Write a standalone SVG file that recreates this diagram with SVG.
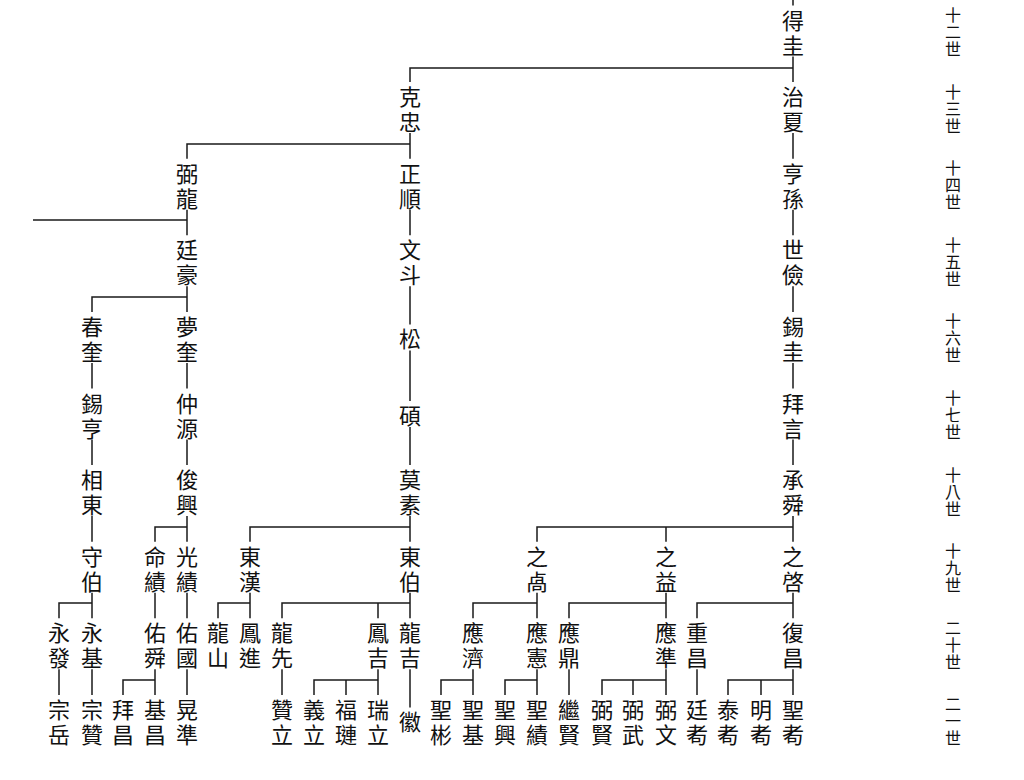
<svg xmlns="http://www.w3.org/2000/svg" width="1024" height="780" viewBox="0 0 1024 780">
<style>
.nm{font-family:"Noto Sans CJK TC","Noto Sans CJK JP",sans-serif;font-size:22px;fill:#111;text-anchor:middle;dominant-baseline:central}
.gl{font-family:"Noto Sans CJK TC","Noto Sans CJK JP",sans-serif;font-size:16px;fill:#111;text-anchor:middle;dominant-baseline:central}
.ln{fill:none;stroke:#1a1a1a;stroke-width:1.5}
</style>
<rect width="1024" height="780" fill="#ffffff"/>
<g id="connectors" class="ln">
<path d="M793 0V5.5 M793 56.5V82.1 M410 82.1V68H793"/>
<path d="M410 133.1V158.7 M187 158.7V144H410"/>
<path d="M793 133.1V158.7 M793 209.7V235.3 M793 286.3V311.9 M793 362.9V388.5 M793 439.5V465.1"/>
<path d="M793 516.1V541.7 M537 541.7V527H793 M666 527V541.7"/>
<path d="M793 592.7V618.3 M697 618.3V603H793"/>
<path d="M666 592.7V618.3 M569 618.3V603H666"/>
<path d="M537 592.7V618.3 M473 618.3V603H537"/>
<path d="M793 669.3V694.9 M728 694.9V680H793 M761 680V694.9"/>
<path d="M697 669.3V694.9"/>
<path d="M666 669.3V694.9 M602 694.9V680H666 M633 680V694.9"/>
<path d="M569 669.3V694.9"/>
<path d="M537 669.3V694.9 M505 694.9V680H537"/>
<path d="M473 669.3V694.9 M441 694.9V680H473"/>
<path d="M410 209.7V235.3 M410 286.3V324.4 M410 350.4V401 M410 427V465.1"/>
<path d="M410 516.1V541.7 M250 541.7V527H410"/>
<path d="M410 592.7V618.3 M282 618.3V603H410 M378 603V618.3"/>
<path d="M410 669.3V707.4"/>
<path d="M378 669.3V694.9 M314 694.9V680H378 M346 680V694.9"/>
<path d="M282 669.3V694.9"/>
<path d="M250 592.7V618.3 M218 618.3V603H250"/>
<path d="M187 209.7V235.3 M33 220H187"/>
<path d="M187 286.3V311.9 M92 311.9V297H187"/>
<path d="M187 362.9V388.5 M187 439.5V465.1"/>
<path d="M187 516.1V541.7 M155 541.7V527H187"/>
<path d="M187 592.7V618.3 M187 669.3V694.9"/>
<path d="M155 592.7V618.3"/>
<path d="M155 669.3V694.9 M123 694.9V680H155"/>
<path d="M92 362.9V388.5 M92 439.5V465.1 M92 516.1V541.7"/>
<path d="M92 592.7V618.3 M59 618.3V603H92"/>
<path d="M92 669.3V694.9 M59 669.3V694.9"/>
</g>
<g id="n-degui"><text class="nm"><tspan x="793" y="18.5">得</tspan><tspan x="793" y="43.5">圭</tspan></text></g>
<g id="n-zhixia"><text class="nm"><tspan x="793" y="95.1">治</tspan><tspan x="793" y="120.1">夏</tspan></text></g>
<g id="n-hengsun"><text class="nm"><tspan x="793" y="171.7">亨</tspan><tspan x="793" y="196.7">孫</tspan></text></g>
<g id="n-shijian"><text class="nm"><tspan x="793" y="248.3">世</tspan><tspan x="793" y="273.3">儉</tspan></text></g>
<g id="n-xigui"><text class="nm"><tspan x="793" y="324.9">錫</tspan><tspan x="793" y="349.9">圭</tspan></text></g>
<g id="n-baiyan"><text class="nm"><tspan x="793" y="401.5">拜</tspan><tspan x="793" y="426.5">言</tspan></text></g>
<g id="n-chengshun"><text class="nm"><tspan x="793" y="478.1">承</tspan><tspan x="793" y="503.1">舜</tspan></text></g>
<g id="n-zhiqi"><text class="nm"><tspan x="793" y="554.7">之</tspan><tspan x="793" y="579.7">啓</tspan></text></g>
<g id="n-fuchang"><text class="nm"><tspan x="793" y="631.3">復</tspan><tspan x="793" y="656.3">昌</tspan></text></g>
<g id="n-shenggou"><text class="nm"><tspan x="793" y="707.9">聖</tspan><tspan x="793" y="732.9">耇</tspan></text></g>
<g id="n-minggou"><text class="nm"><tspan x="761" y="707.9">明</tspan><tspan x="761" y="732.9">耇</tspan></text></g>
<g id="n-taigou"><text class="nm"><tspan x="728" y="707.9">泰</tspan><tspan x="728" y="732.9">耇</tspan></text></g>
<g id="n-chongchang"><text class="nm"><tspan x="697" y="631.3">重</tspan><tspan x="697" y="656.3">昌</tspan></text></g>
<g id="n-tinggou"><text class="nm"><tspan x="697" y="707.9">廷</tspan><tspan x="697" y="732.9">耇</tspan></text></g>
<g id="n-zhiyi"><text class="nm"><tspan x="666" y="554.7">之</tspan><tspan x="666" y="579.7">益</tspan></text></g>
<g id="n-yingzhun"><text class="nm"><tspan x="666" y="631.3">應</tspan><tspan x="666" y="656.3">準</tspan></text></g>
<g id="n-biwen"><text class="nm"><tspan x="666" y="707.9">弼</tspan><tspan x="666" y="732.9">文</tspan></text></g>
<g id="n-biwu"><text class="nm"><tspan x="633" y="707.9">弼</tspan><tspan x="633" y="732.9">武</tspan></text></g>
<g id="n-bixian"><text class="nm"><tspan x="602" y="707.9">弼</tspan><tspan x="602" y="732.9">賢</tspan></text></g>
<g id="n-yingding"><text class="nm"><tspan x="569" y="631.3">應</tspan><tspan x="569" y="656.3">鼎</tspan></text></g>
<g id="n-jixian"><text class="nm"><tspan x="569" y="707.9">繼</tspan><tspan x="569" y="732.9">賢</tspan></text></g>
<g id="n-zhixie"><text class="nm"><tspan x="537" y="554.7">之</tspan><tspan x="537" y="579.7">卨</tspan></text></g>
<g id="n-yingxian"><text class="nm"><tspan x="537" y="631.3">應</tspan><tspan x="537" y="656.3">憲</tspan></text></g>
<g id="n-shengji"><text class="nm"><tspan x="537" y="707.9">聖</tspan><tspan x="537" y="732.9">績</tspan></text></g>
<g id="n-shengxing"><text class="nm"><tspan x="505" y="707.9">聖</tspan><tspan x="505" y="732.9">興</tspan></text></g>
<g id="n-yingji"><text class="nm"><tspan x="473" y="631.3">應</tspan><tspan x="473" y="656.3">濟</tspan></text></g>
<g id="n-shengji2"><text class="nm"><tspan x="473" y="707.9">聖</tspan><tspan x="473" y="732.9">基</tspan></text></g>
<g id="n-shengbin"><text class="nm"><tspan x="441" y="707.9">聖</tspan><tspan x="441" y="732.9">彬</tspan></text></g>
<g id="n-kezhong"><text class="nm"><tspan x="410" y="95.1">克</tspan><tspan x="410" y="120.1">忠</tspan></text></g>
<g id="n-zhengshun"><text class="nm"><tspan x="410" y="171.7">正</tspan><tspan x="410" y="196.7">順</tspan></text></g>
<g id="n-wendou"><text class="nm"><tspan x="410" y="248.3">文</tspan><tspan x="410" y="273.3">斗</tspan></text></g>
<g id="n-song"><text class="nm" x="410" y="337.4">松</text></g>
<g id="n-shuo"><text class="nm" x="410" y="414">碩</text></g>
<g id="n-mosu"><text class="nm"><tspan x="410" y="478.1">莫</tspan><tspan x="410" y="503.1">素</tspan></text></g>
<g id="n-dongbo"><text class="nm"><tspan x="410" y="554.7">東</tspan><tspan x="410" y="579.7">伯</tspan></text></g>
<g id="n-longji"><text class="nm"><tspan x="410" y="631.3">龍</tspan><tspan x="410" y="656.3">吉</tspan></text></g>
<g id="n-hui"><text class="nm" x="410" y="720.4">徽</text></g>
<g id="n-fengji"><text class="nm"><tspan x="378" y="631.3">鳳</tspan><tspan x="378" y="656.3">吉</tspan></text></g>
<g id="n-ruili"><text class="nm"><tspan x="378" y="707.9">瑞</tspan><tspan x="378" y="732.9">立</tspan></text></g>
<g id="n-fulian"><text class="nm"><tspan x="346" y="707.9">福</tspan><tspan x="346" y="732.9">璉</tspan></text></g>
<g id="n-yili"><text class="nm"><tspan x="314" y="707.9">義</tspan><tspan x="314" y="732.9">立</tspan></text></g>
<g id="n-longxian"><text class="nm"><tspan x="282" y="631.3">龍</tspan><tspan x="282" y="656.3">先</tspan></text></g>
<g id="n-zanli"><text class="nm"><tspan x="282" y="707.9">贊</tspan><tspan x="282" y="732.9">立</tspan></text></g>
<g id="n-donghan"><text class="nm"><tspan x="250" y="554.7">東</tspan><tspan x="250" y="579.7">漢</tspan></text></g>
<g id="n-fengjin"><text class="nm"><tspan x="250" y="631.3">鳳</tspan><tspan x="250" y="656.3">進</tspan></text></g>
<g id="n-longshan"><text class="nm"><tspan x="218" y="631.3">龍</tspan><tspan x="218" y="656.3">山</tspan></text></g>
<g id="n-bilong"><text class="nm"><tspan x="187" y="171.7">弼</tspan><tspan x="187" y="196.7">龍</tspan></text></g>
<g id="n-tinghao"><text class="nm"><tspan x="187" y="248.3">廷</tspan><tspan x="187" y="273.3">豪</tspan></text></g>
<g id="n-mengkui"><text class="nm"><tspan x="187" y="324.9">夢</tspan><tspan x="187" y="349.9">奎</tspan></text></g>
<g id="n-zhongyuan"><text class="nm"><tspan x="187" y="401.5">仲</tspan><tspan x="187" y="426.5">源</tspan></text></g>
<g id="n-junxing"><text class="nm"><tspan x="187" y="478.1">俊</tspan><tspan x="187" y="503.1">興</tspan></text></g>
<g id="n-guangji"><text class="nm"><tspan x="187" y="554.7">光</tspan><tspan x="187" y="579.7">績</tspan></text></g>
<g id="n-youguo"><text class="nm"><tspan x="187" y="631.3">佑</tspan><tspan x="187" y="656.3">國</tspan></text></g>
<g id="n-huangzhun"><text class="nm"><tspan x="187" y="707.9">晃</tspan><tspan x="187" y="732.9">準</tspan></text></g>
<g id="n-mingji"><text class="nm"><tspan x="155" y="554.7">命</tspan><tspan x="155" y="579.7">績</tspan></text></g>
<g id="n-youshun"><text class="nm"><tspan x="155" y="631.3">佑</tspan><tspan x="155" y="656.3">舜</tspan></text></g>
<g id="n-jichang"><text class="nm"><tspan x="155" y="707.9">基</tspan><tspan x="155" y="732.9">昌</tspan></text></g>
<g id="n-baichang"><text class="nm"><tspan x="123" y="707.9">拜</tspan><tspan x="123" y="732.9">昌</tspan></text></g>
<g id="n-chunkui"><text class="nm"><tspan x="92" y="324.9">春</tspan><tspan x="92" y="349.9">奎</tspan></text></g>
<g id="n-xiheng"><text class="nm"><tspan x="92" y="401.5">錫</tspan><tspan x="92" y="426.5">亨</tspan></text></g>
<g id="n-xiangdong"><text class="nm"><tspan x="92" y="478.1">相</tspan><tspan x="92" y="503.1">東</tspan></text></g>
<g id="n-shoubo"><text class="nm"><tspan x="92" y="554.7">守</tspan><tspan x="92" y="579.7">伯</tspan></text></g>
<g id="n-yongji"><text class="nm"><tspan x="92" y="631.3">永</tspan><tspan x="92" y="656.3">基</tspan></text></g>
<g id="n-zongzan"><text class="nm"><tspan x="92" y="707.9">宗</tspan><tspan x="92" y="732.9">贊</tspan></text></g>
<g id="n-yongfa"><text class="nm"><tspan x="59" y="631.3">永</tspan><tspan x="59" y="656.3">發</tspan></text></g>
<g id="n-zongyue"><text class="nm"><tspan x="59" y="707.9">宗</tspan><tspan x="59" y="732.9">岳</tspan></text></g>
<g id="gen-labels">
<text class="gl"><tspan x="953" y="14">十</tspan><tspan x="953" y="31">二</tspan><tspan x="953" y="48">世</tspan></text>
<text class="gl"><tspan x="953" y="90.6">十</tspan><tspan x="953" y="107.6">三</tspan><tspan x="953" y="124.6">世</tspan></text>
<text class="gl"><tspan x="953" y="167.2">十</tspan><tspan x="953" y="184.2">四</tspan><tspan x="953" y="201.2">世</tspan></text>
<text class="gl"><tspan x="953" y="243.8">十</tspan><tspan x="953" y="260.8">五</tspan><tspan x="953" y="277.8">世</tspan></text>
<text class="gl"><tspan x="953" y="320.4">十</tspan><tspan x="953" y="337.4">六</tspan><tspan x="953" y="354.4">世</tspan></text>
<text class="gl"><tspan x="953" y="397">十</tspan><tspan x="953" y="414">七</tspan><tspan x="953" y="431">世</tspan></text>
<text class="gl"><tspan x="953" y="473.6">十</tspan><tspan x="953" y="490.6">八</tspan><tspan x="953" y="507.6">世</tspan></text>
<text class="gl"><tspan x="953" y="550.2">十</tspan><tspan x="953" y="567.2">九</tspan><tspan x="953" y="584.2">世</tspan></text>
<text class="gl"><tspan x="953" y="626.8">二</tspan><tspan x="953" y="643.8">十</tspan><tspan x="953" y="660.8">世</tspan></text>
<text class="gl"><tspan x="953" y="703.4">二</tspan><tspan x="953" y="720.4">一</tspan><tspan x="953" y="737.4">世</tspan></text>
</g>
</svg>
